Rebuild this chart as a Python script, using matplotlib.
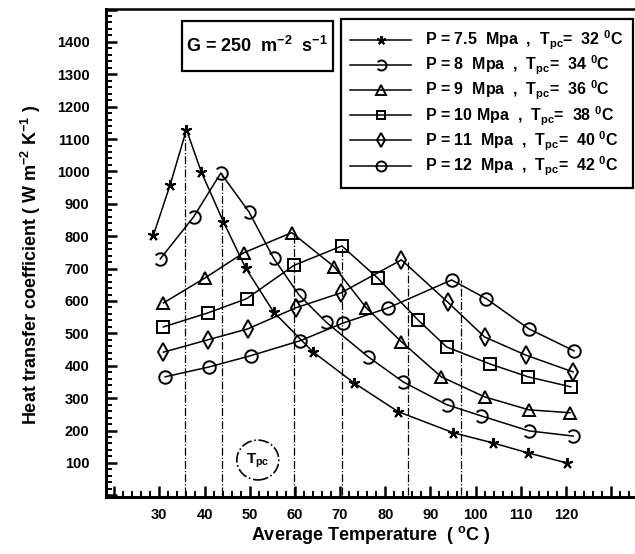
import numpy as np
import matplotlib
matplotlib.use("Agg")
import matplotlib.pyplot as plt
from matplotlib.path import Path
from matplotlib.patches import Ellipse, Rectangle
from matplotlib.ticker import MultipleLocator, FuncFormatter

plt.rcParams['font.family'] = ['Liberation Sans', 'DejaVu Sans']
plt.rcParams['font.weight'] = 'bold'
plt.rcParams['axes.labelweight'] = 'bold'
plt.rcParams['mathtext.fontset'] = 'custom'
plt.rcParams['mathtext.rm'] = 'Liberation Sans:bold'
plt.rcParams['mathtext.it'] = 'Liberation Sans:bold'
plt.rcParams['mathtext.bf'] = 'Liberation Sans:bold'

# values
t75 = [28.7, 32.4, 36.0, 39.3, 44.2, 49.1, 55.3, 64.0, 73.1, 82.9, 95.1, 103.8, 111.6, 120.2]
h75 = [804, 959, 1129, 998, 844, 702, 566, 443, 347, 258, 193, 162, 131, 100]

t8 = [30.2, 37.6, 43.6, 49.8, 55.3, 60.9, 66.9, 76.2, 84.0, 93.6, 101.3, 111.8, 121.6]
h8 = [730, 860, 995, 876, 732, 619, 535, 428, 350, 280, 245, 199, 183]

t9 = [30.9, 40.2, 48.7, 59.3, 68.7, 75.8, 83.6, 92.4, 102.0, 111.8, 120.9]
h9 = [594, 672, 749, 811, 706, 579, 474, 366, 304, 264, 255]

t10 = [30.9, 40.7, 49.3, 59.8, 70.4, 78.4, 87.3, 93.6, 103.1, 111.6, 121.1]
h10 = [520, 563, 607, 710, 770, 670, 541, 458, 406, 366, 335]

t11 = [30.9, 40.7, 49.6, 60.2, 70.2, 83.6, 93.8, 102.0, 111.1, 121.6]
h11 = [442, 480, 514, 579, 625, 727, 597, 489, 433, 381]

t12 = [31.3, 40.9, 50.2, 61.1, 70.7, 80.7, 94.7, 102.4, 111.8, 121.8]
h12 = [366, 396, 431, 477, 532, 579, 665, 607, 514, 446]

# pseudo-critical temperature lines
t_pk = [35.6, 43.8, 59.8, 70.4, 85.1, 96.7]
h_pk = [1130, 995, 811, 770, 722, 665]

labels = [
    r"P = 7.5  Mpa  ,  T$_{\mathrm{pc}}$=  32 $^{0}$C",
    r"P = 8  Mpa  ,  T$_{\mathrm{pc}}$=  34 $^{0}$C",
    r"P = 9  Mpa  ,  T$_{\mathrm{pc}}$=  36 $^{0}$C",
    r"P = 10 Mpa  ,  T$_{\mathrm{pc}}$=  38 $^{0}$C",
    r"P = 11  Mpa  ,  T$_{\mathrm{pc}}$=  40 $^{0}$C",
    r"P = 12  Mpa  ,  T$_{\mathrm{pc}}$=  42 $^{0}$C",
]

# broken circle marker
arc = Path.arc(-140, 140)
broken = Path(arc.vertices, arc.codes)

markers = [(5, 2, 0), broken, '^', 's', 'd', 'o']
sizes = [8, 9, 9, 8, 9, 9]

fig = plt.figure(figsize=(6.35, 5.54), dpi=100)
ax = fig.add_axes([0.167, 0.103, 0.833, 0.881])

series = [(t75, h75), (t8, h8), (t9, h9), (t10, h10), (t11, h11), (t12, h12)]
for (t, h), m, ms, lab in zip(series, markers, sizes, labels):
    ax.plot(t, h, color='black', lw=1.1, marker=m, ms=ms, mfc='none',
            mec='black', mew=1.4, label=lab)

for tp, hp in zip(t_pk, h_pk):
    ax.plot([tp, tp], [0, hp], color='black', lw=0.9, ls='-.')

ax.add_patch(Ellipse((51.8, 109), 9.3, 123, fill=False, ls='-.', lw=1.2, ec='black'))
ax.text(51.8, 107, r"T$_{\mathrm{pc}}$", ha='center', va='center', fontsize=11)

ax.set_xlim(18.2, 135.3)
ax.set_ylim(-5, 1502)

ax.xaxis.set_major_locator(MultipleLocator(10))
ax.xaxis.set_minor_locator(MultipleLocator(2))
ax.yaxis.set_major_locator(MultipleLocator(100))
ax.yaxis.set_minor_locator(MultipleLocator(20))
ax.xaxis.set_major_formatter(FuncFormatter(lambda v, p: f"{v:.0f}" if 29 < v < 121 else ""))
ax.yaxis.set_major_formatter(FuncFormatter(lambda v, p: f"{v:.0f}" if 99 < v < 1401 else ""))

ax.tick_params(which='both', direction='in', top=False, right=False, width=1.8)
ax.tick_params(which='major', length=8, labelsize=10.5)
ax.tick_params(axis='x', which='major', pad=8)
ax.tick_params(axis='y', which='major', pad=12)
ax.tick_params(which='minor', length=4.5, width=1.4)
for lbl in ax.get_xticklabels() + ax.get_yticklabels():
    lbl.set_fontweight('bold')

for s in ['left', 'bottom']:
    ax.spines[s].set_linewidth(2.2)
ax.spines['top'].set_linewidth(1.8)
ax.spines['right'].set_visible(False)

ax.set_xlabel(r"Average Temperature  ( $^{o}$C )", fontsize=13, fontweight='bold')
ax.xaxis.set_label_coords(0.5, -0.055)
ax.set_ylabel(r"Heat transfer coefficient ( W m$^{-2}$ K$^{-1}$ )", fontsize=13,
              fontweight='bold')
ax.yaxis.set_label_coords(-0.12, 0.475)

# G box
fig.patches.append(Rectangle((182 / 635, 1 - 71 / 554), 151 / 635, 50 / 554,
                             transform=fig.transFigure, fill=False, lw=1.6, ec='black'))
fig.text(257 / 635, 1 - 46 / 554, r"G = 250  m$^{-2}$  s$^{-1}$", ha='center', va='center',
         fontsize=13)

leg = ax.legend(loc='upper right', bbox_to_anchor=(633 / 635, 1 - 19 / 554),
                bbox_transform=fig.transFigure, fontsize=11.5, handlelength=3.8,
                labelspacing=0.12, borderpad=0.6, handletextpad=0.9, borderaxespad=0,
                fancybox=False, framealpha=1, edgecolor='black', markerscale=0.8)
leg.get_frame().set_linewidth(1.6)

fig.savefig("out.png", dpi=100)
